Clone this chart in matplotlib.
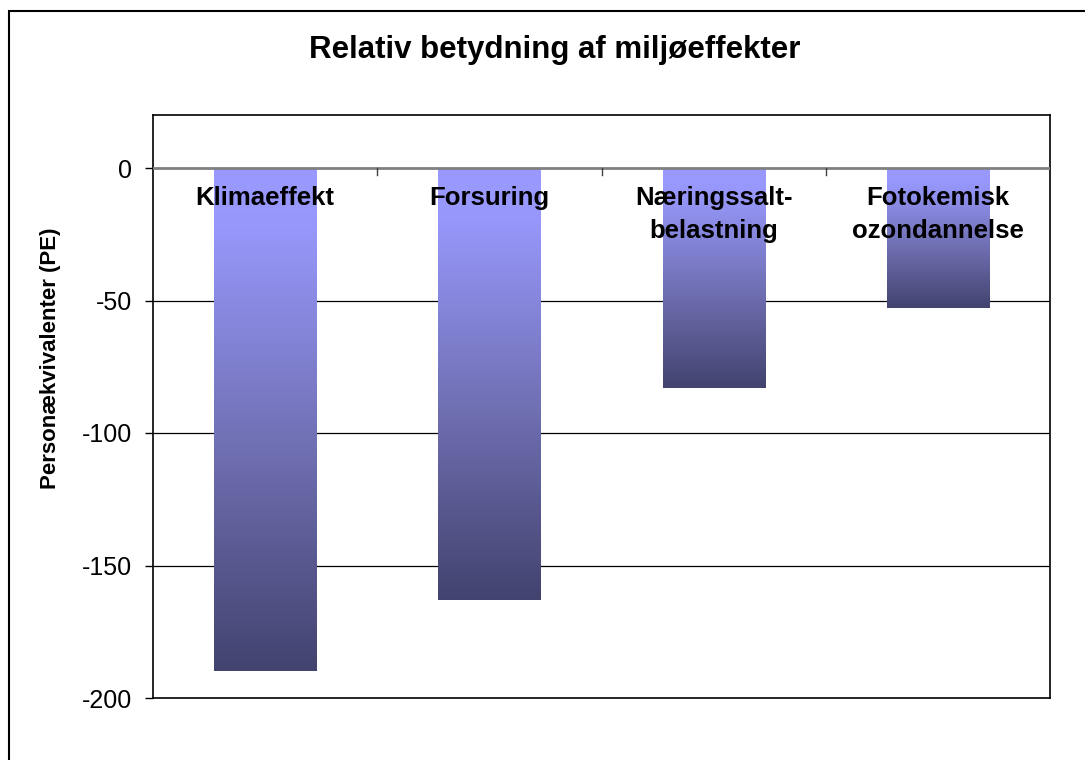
import matplotlib
matplotlib.use("Agg")
import matplotlib.pyplot as plt
import numpy as np
from matplotlib.colors import LinearSegmentedColormap
from matplotlib.patches import Rectangle

categories = ["Klimaeffekt", "Forsuring", "Næringssalt-\nbelastning", "Fotokemisk\nozondannelse"]
values = [-190, -163, -83, -53]
yticks = [0, -50, -100, -150, -200]

plt.rcParams['font.family'] = ['Liberation Sans', 'DejaVu Sans']

fig = plt.figure(figsize=(10.85, 7.6), dpi=100)
ax = fig.add_axes([153 / 1085, 1 - 698 / 760, 897 / 1085, 583 / 760])

x = np.arange(len(categories))
bars = ax.bar(x, values, width=0.455, color='none', edgecolor='none', zorder=3)

# vertical gradient inside each bar, light at the top, dark at the bottom
cmap = LinearSegmentedColormap.from_list(
    "bar", [(0.0, '#9999FF'), (0.12, '#9797FB'), (0.55, '#7070B4'), (1.0, '#43436F')])
grad = np.linspace(0, 1, 256).reshape(-1, 1)
for b in bars:
    x0, w = b.get_x(), b.get_width()
    top, bottom = 0, b.get_height()
    im = ax.imshow(grad, cmap=cmap, aspect='auto', extent=[x0, x0 + w, bottom, top],
                   origin='upper', zorder=3)
    im.set_clip_path(b)

ax.set_xlim(-0.5, len(categories) - 0.5)
ax.set_ylim(-200, 20)
ax.set_yticks(yticks)
ax.set_yticklabels([str(v) for v in yticks], fontsize=18)
ax.tick_params(axis='y', direction='out', length=6, width=1, pad=9)
ax.set_xticks([])

for yv in yticks[1:-1]:
    ax.axhline(yv, color='black', lw=0.9, zorder=1)
ax.axhline(0, color='#808080', lw=2, zorder=4)

# category boundary ticks on the zero axis
for xb in x[:-1] + 0.5:
    ax.plot([xb, xb], [0, -2.5], color='#404040', lw=1, zorder=4)

for i, lab in enumerate(categories):
    ax.annotate(lab, xy=(x[i], 0), xytext=(0, -13), textcoords='offset points',
                ha='center', va='top', fontsize=18.5, fontweight='bold',
                linespacing=1.45, zorder=5)

for s in ax.spines.values():
    s.set_color('black')
    s.set_linewidth(1.2)

fig.text(555 / 1085, 1 - 58 / 760, "Relativ betydning af miljøeffekter",
         ha='center', va='baseline', fontsize=22.5, fontweight='bold')
fig.text(51 / 1085, 1 - 358 / 760, "Personækvivalenter (PE)", rotation=90,
         ha='center', va='center', fontsize=16, fontweight='bold')

# outer chart frame (only left and top edges are visible)
fig.add_artist(Rectangle((9 / 1085, -0.1), 1.2, 1.1 - 11 / 760, transform=fig.transFigure,
                         fill=False, edgecolor='black', lw=1.5, clip_on=False))

fig.savefig("out.png", dpi=100)
